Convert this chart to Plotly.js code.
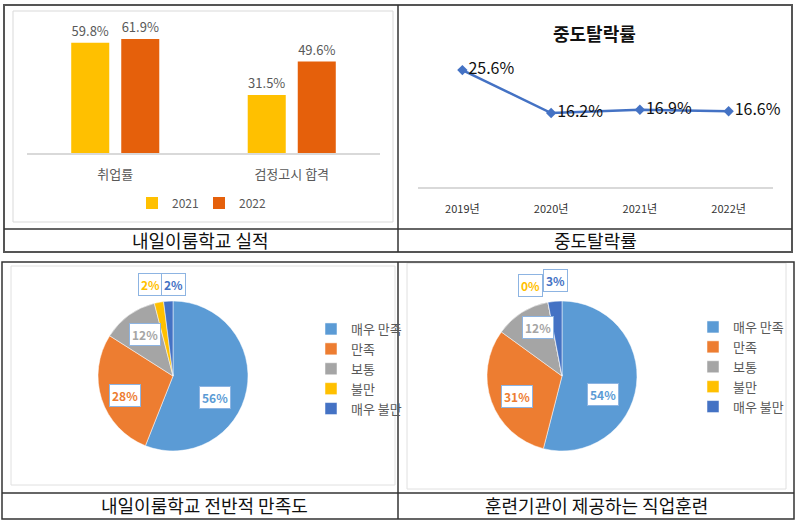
<!DOCTYPE html>
<html>
<head>
<meta charset="utf-8">
<script src="https://cdn.plot.ly/plotly-3.0.1.min.js"></script>
<style>body{margin:0;background:#fff}#myDiv{width:800px;height:520px}</style>
</head>
<body>
<div id="myDiv"></div>
<script>
var FONT = '"Noto Sans CJK KR", "Noto Sans", sans-serif';

// top left: 내일이룸학교 실적
var barCats = ['취업률', '검정고시 합격'];
var bar2021 = [59.8, 31.5];
var bar2022 = [61.9, 49.6];

// top right: 중도탈락률
var years = ['2019년', '2020년', '2021년', '2022년'];
var dropRate = [25.6, 16.2, 16.9, 16.6];

// bottom: satisfaction pies
var satLabels = ['매우 만족', '만족', '보통', '불만', '매우 불만'];
var satColors = ['#5B9BD5', '#ED7D31', '#A5A5A5', '#FFC000', '#4472C4'];
var schoolSat = [56, 28, 12, 2, 2];
var trainSat = [54, 31, 12, 0, 3];

var captions = ['내일이룸학교 실적', '중도탈락률', '내일이룸학교 전반적 만족도', '훈련기관이 제공하는 직업훈련'];
var lineTitle = '중도탈락률';

// picture pixels -> paper fractions (margins are 0)
function px(x) { return x / 800; }
function py(y) { return 1 - y / 520; }

var data = [{
  type: 'bar', name: '2021', x: barCats, y: bar2021,
  marker: {color: '#FFC000'},
  texttemplate: '%{y}%', textposition: 'outside', cliponaxis: false,
  textfont: {size: 13, color: '#595959'},
  xaxis: 'x', yaxis: 'y', legend: 'legend', hoverinfo: 'x+y'
}, {
  type: 'bar', name: '2022', x: barCats, y: bar2022,
  marker: {color: '#E5600B'},
  texttemplate: '%{y}%', textposition: 'outside', cliponaxis: false,
  textfont: {size: 13, color: '#595959'},
  xaxis: 'x', yaxis: 'y', legend: 'legend', hoverinfo: 'x+y'
}, {
  type: 'scatter', mode: 'lines+markers+text', x: years, y: dropRate,
  line: {color: '#4472C4', width: 2.5},
  marker: {symbol: 'diamond', size: 8, color: '#4472C4'},
  texttemplate: '%{y}%', textposition: 'middle right', cliponaxis: false,
  textfont: {size: 16, color: '#111'},
  xaxis: 'x2', yaxis: 'y2', showlegend: false
}, {
  type: 'pie', values: schoolSat, labels: satLabels,
  marker: {colors: satColors, line: {color: '#fff', width: 0.5}},
  sort: false, direction: 'clockwise', textinfo: 'none',
  domain: {x: [px(98), px(248)], y: [py(451), py(301)]},
  legend: 'legend2', legendgroup: 'school'
}, {
  type: 'pie', values: trainSat, labels: satLabels,
  marker: {colors: satColors, line: {color: '#fff', width: 0.5}},
  sort: false, direction: 'clockwise', textinfo: 'none',
  domain: {x: [px(487), px(637)], y: [py(451), py(301)]},
  legend: 'legend3', legendgroup: 'train'
}];

// callout label spots
var pie1Spots = [[215, 397], [125, 395], [145, 334], [150, 284], [173, 284]];
var pie2Spots = [[603, 394], [517, 396], [538, 327], [530, 285], [555, 280]];

var annotations = [];
function callouts(vals, spots) {
  vals.forEach(function (v, i) {
    annotations.push({
      xref: 'paper', yref: 'paper', x: px(spots[i][0]), y: py(spots[i][1]),
      xanchor: 'center', yanchor: 'middle',
      text: v + '%', showarrow: false,
      font: {size: 12, color: satColors[i], weight: 'bold'},
      bgcolor: '#fff', bordercolor: '#8DB4E2', borderwidth: 1, borderpad: 2
    });
  });
}
callouts(schoolSat, pie1Spots);
callouts(trainSat, pie2Spots);

var capPos = [[200, 240], [595, 240], [205, 505], [596, 505]];
captions.forEach(function (c, i) {
  annotations.push({
    xref: 'paper', yref: 'paper', x: px(capPos[i][0]), y: py(capPos[i][1]),
    xanchor: 'center', yanchor: 'middle',
    text: c, showarrow: false, font: {size: 18, color: '#111'}
  });
});
annotations.push({
  xref: 'paper', yref: 'paper', x: px(594), y: py(33), xanchor: 'center', yanchor: 'middle',
  text: lineTitle, showarrow: false, font: {size: 18, color: '#111', weight: 'bold'}
});

function rect(x0, y0, x1, y1, color, w) {
  return {type: 'rect', xref: 'paper', yref: 'paper', x0: px(x0), x1: px(x1),
    y0: py(y0), y1: py(y1), line: {color: color, width: w}, layer: 'below'};
}
function seg(x0, y0, x1, y1, color, w) {
  return {type: 'line', xref: 'paper', yref: 'paper', x0: px(x0), x1: px(x1),
    y0: py(y0), y1: py(y1), line: {color: color, width: w}};
}

var shapes = [
  rect(13, 11, 393, 222, '#D9D9D9', 1),
  rect(11, 266, 395, 485, '#E0E0E0', 1),
  rect(407, 263, 786, 489, '#E0E0E0', 1),
  rect(4, 5, 792, 252, '#555', 2),
  seg(4, 229, 792, 229, '#333', 1.5),
  seg(398, 5, 398, 252, '#333', 1.5),
  rect(2, 262, 794, 519, '#333', 1.5),
  seg(2, 493, 794, 493, '#333', 1.5),
  seg(398, 262, 398, 519, '#333', 1.5)
];

var layout = {
  width: 800, height: 520,
  margin: {l: 0, r: 0, t: 0, b: 0},
  paper_bgcolor: '#fff', plot_bgcolor: 'rgba(0,0,0,0)',
  font: {family: FONT, color: '#595959'},
  barmode: 'group', bargap: 0.433, bargroupgap: 0.24,
  xaxis: {
    domain: [px(27), px(380)], anchor: 'y',
    showline: true, linecolor: '#D9D9D9', linewidth: 1.5,
    showgrid: false, zeroline: false, ticks: '', ticklabelstandoff: 9,
    tickfont: {size: 13, color: '#595959'}, fixedrange: true
  },
  yaxis: {domain: [py(153), py(24)], range: [0, 70], visible: false, anchor: 'x', fixedrange: true},
  xaxis2: {
    domain: [px(418), px(773)], anchor: 'y2', range: [-0.5, 3.5],
    showline: true, linecolor: '#D9D9D9', linewidth: 2,
    showgrid: false, zeroline: false, ticks: '', ticklabelstandoff: 11,
    tickfont: {size: 11, color: '#333'}, fixedrange: true
  },
  yaxis2: {domain: [py(187), py(50)], range: [0, 30], visible: false, anchor: 'x2', fixedrange: true},
  legend: {
    orientation: 'h', x: px(199), xanchor: 'center', y: py(203), yanchor: 'middle',
    entrywidth: 22, font: {size: 12, color: '#595959'}, bgcolor: 'rgba(0,0,0,0)'
  },
  legend2: {
    x: px(311), xanchor: 'left', y: py(314), yanchor: 'top',
    font: {size: 13, color: '#595959'}, bgcolor: 'rgba(0,0,0,0)', itemwidth: 30
  },
  legend3: {
    x: px(693), xanchor: 'left', y: py(312), yanchor: 'top',
    font: {size: 13, color: '#595959'}, bgcolor: 'rgba(0,0,0,0)', itemwidth: 30
  },
  annotations: annotations,
  shapes: shapes
};

Plotly.newPlot('myDiv', data, layout, {displayModeBar: false});
</script>
</body>
</html>
